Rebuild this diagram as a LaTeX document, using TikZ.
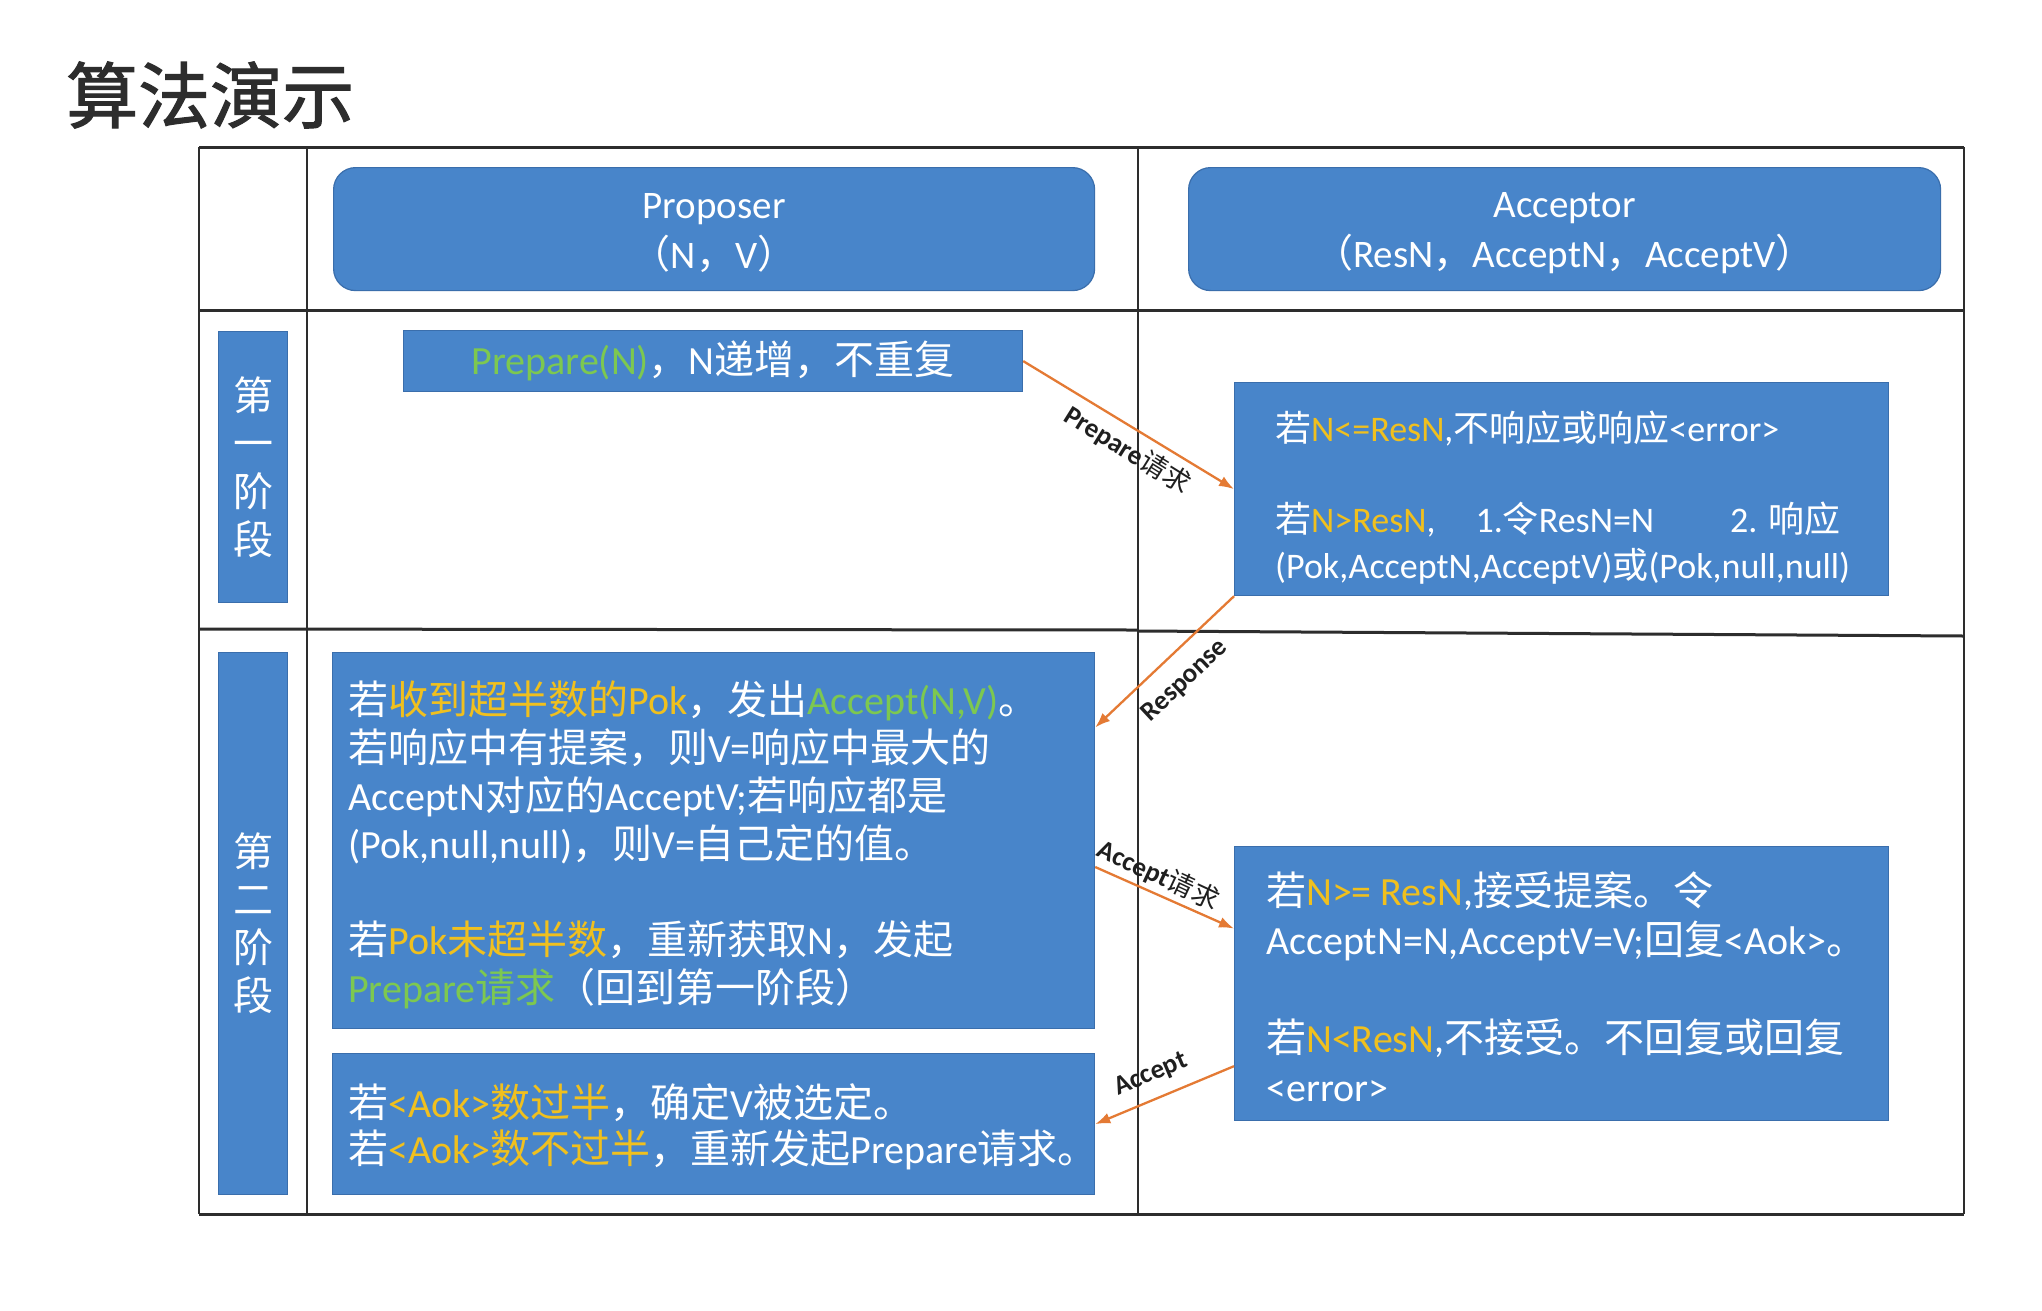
\documentclass[tikz,border=0pt]{standalone}
\usepackage{fontspec}
\setmainfont{Carlito}
\newfontfamily\latin{Carlito}
\newfontfamily\cjk{Noto Sans CJK SC}[BoldFont={Noto Sans CJK SC}]
\newfontfamily\cjktitle{Noto Sans CJK SC}[FakeBold=1.6]
\usetikzlibrary{arrows.meta,calc}
\definecolor{boxblue}{RGB}{72,133,202}
\definecolor{boxedge}{RGB}{58,110,172}
\definecolor{hiy}{RGB}{240,192,30}
\definecolor{hig}{RGB}{125,200,80}
\definecolor{arr}{RGB}{228,122,52}
\definecolor{gridc}{RGB}{45,45,45}
\definecolor{titlec}{RGB}{45,45,45}
\newcount\cjkcnt
\newXeTeXintercharclass\CJKcls
\def\cjkrange#1#2{\cjkcnt=#1\relax
  \loop\XeTeXcharclass\cjkcnt=\CJKcls\relax
  \ifnum\cjkcnt<#2\relax\advance\cjkcnt by 1\relax\repeat}
\cjkrange{"3000}{"303F}
\cjkrange{"4E00}{"9FFF}
\cjkrange{"FF00}{"FFEF}
\XeTeXinterchartoks 0 \CJKcls = {\cjk}
\XeTeXinterchartoks 4095 \CJKcls = {\cjk}
\XeTeXinterchartoks \CJKcls 0 = {\latin}
\XeTeXinterchartoks \CJKcls 4095 = {\latin}
\XeTeXinterchartoks 4095 0 = {\latin}
\XeTeXinterchartokenstate=1
\tikzset{
  bluebox/.style={rectangle, fill=boxblue, draw=boxedge, line width=1.2pt, inner sep=0pt, anchor=north west},
  hdrbox/.style={bluebox, rounded corners=22pt},
  wtxt/.style={text=white, inner sep=0pt, align=left},
  lab/.style={text=black!88, inner xsep=1pt, font=\bfseries\fontsize{27}{30}\selectfont},
  conn/.style={draw=arr, line width=2.3pt, -{Latex[length=15pt,width=11pt]}},
  hline/.style={draw=gridc, line width=3pt},
  vline/.style={draw=gridc, line width=2.2pt}
}
\begin{document}
\begin{tikzpicture}[x=1pt,y=-1pt]
\useasboundingbox (0,0) rectangle (2042,1310);
\fill[white] (0,0) rectangle (2042,1310);

% title
\node[anchor=west, text=titlec, inner sep=0pt,
  font={\XeTeXinterchartokenstate=0 \cjktitle\fontsize{72}{80}\selectfont}] (title) at (66,95) {算法演示};

% table grid
\draw[hline] (199,147) -- (1964,147);
\draw[hline] (199,310) -- (1964,310);
\draw[hline] (199,629) -- (1138,630);
\draw[hline] (1138,631) -- (1964,636);
\draw[hline] (199,1214) -- (1964,1214);
\draw[vline] (199,147) -- (199,1214);
\draw[vline] (307,147) -- (307,1214);
\draw[vline] (1138,147) -- (1138,1214);
\draw[vline] (1964,147) -- (1964,1214);

% headers
\node[hdrbox, minimum width=761pt, minimum height=123pt] (prop) at (333,167) {};
\node[wtxt, align=center, font=\fontsize{39}{50}\selectfont] (propt) at ($(prop.center)+(0,4)$) {Proposer\\（N，V）};
\node[hdrbox, minimum width=752pt, minimum height=123pt] (acc) at (1188,167) {};
\node[wtxt, align=center, font=\fontsize{39}{50}\selectfont] (acct) at ($(acc.center)+(0,4)$) {Acceptor\\（ResN，AcceptN，AcceptV）};

% phase labels
\node[bluebox, minimum width=69pt, minimum height=271pt, text=white, align=center,
  font=\fontsize{40}{48}\selectfont] (ph1) at (218,331) {第\\一\\阶\\段};
\node[bluebox, minimum width=69pt, minimum height=542pt, text=white, align=center,
  font=\fontsize{40}{48}\selectfont] (ph2) at (218,652) {第\\二\\阶\\段};

% phase 1
\node[bluebox, minimum width=619pt, minimum height=61pt, text=white,
  font=\fontsize{40}{48}\selectfont] (prep) at (403,330) {{\color{hig}Prepare(N)}，N递增，不重复};
\node[bluebox, minimum width=654pt, minimum height=213pt] (acc1) at (1234,382) {};
\node[wtxt, anchor=north west, font=\fontsize{36}{45.5}\selectfont] (acc1t) at (1275,411)
  {若{\color{hiy}N<=ResN},不响应或响应<error>\\[45.5pt]
   若{\color{hiy}N>ResN},\hspace*{40pt}1.令ResN=N\hspace*{76pt}2. 响应\\
   (Pok,AcceptN,AcceptV)或(Pok,null,null)};

% phase 2
\node[bluebox, minimum width=762pt, minimum height=376pt] (prop2) at (332,652) {};
\node[wtxt, anchor=north west, font=\fontsize{40}{48}\selectfont] (prop2t) at (348,681)
  {若{\color{hiy}收到超半数的Pok}，发出{\color{hig}Accept(N,V)}。\\
   若响应中有提案，则V=响应中最大的\\
   AcceptN对应的AcceptV;若响应都是\\
   (Pok,null,null)，则V=自己定的值。\\[48pt]
   若{\color{hiy}Pok未超半数}，重新获取N，发起\\
   {\color{hig}Prepare请求}（回到第一阶段）};
\node[bluebox, minimum width=762pt, minimum height=141pt] (bot) at (332,1053) {};
\node[wtxt, anchor=north west, font=\fontsize{40}{46}\selectfont] (bott) at (348,1083)
  {若{\color{hiy}<Aok>数过半}，确定V被选定。\\
   若{\color{hiy}<Aok>数不过半}，重新发起Prepare请求。};
\node[bluebox, minimum width=654pt, minimum height=274pt] (acc2) at (1234,846) {};
\node[wtxt, anchor=north west, font=\fontsize{40}{49}\selectfont] (acc2t) at (1266,871)
  {若{\color{hiy}N>= ResN},接受提案。令\\
   AcceptN=N,AcceptV=V;回复<Aok>。\\[49pt]
   若{\color{hiy}N<ResN},不接受。不回复或回复\\
   <error>};

% connectors
\draw[conn] (prep.east) -- node[lab, pos=0.55, rotate=-32, anchor=north, inner ysep=7pt] (l1) {Prepare请求} (acc1.west);
\draw[conn] (acc1.south west) -- node[lab, pos=0.49, rotate=43, anchor=north, inner ysep=16pt] (l2) {Response}
  ($(prop2.north east)!0.2!(prop2.south east)$);
\draw[conn] ($(prop2.north east)!0.57!(prop2.south east)$) -- node[lab, pos=0.40, rotate=-25, anchor=south, inner ysep=4pt] (l3) {Accept请求}
  ($(acc2.north west)!0.3!(acc2.south west)$);
\draw[conn] ($(acc2.north west)!0.8!(acc2.south west)$) -- node[lab, pos=0.53, rotate=23, anchor=south, inner ysep=12pt] (l4) {Accept} (bot.east);
\end{tikzpicture}
\end{document}
